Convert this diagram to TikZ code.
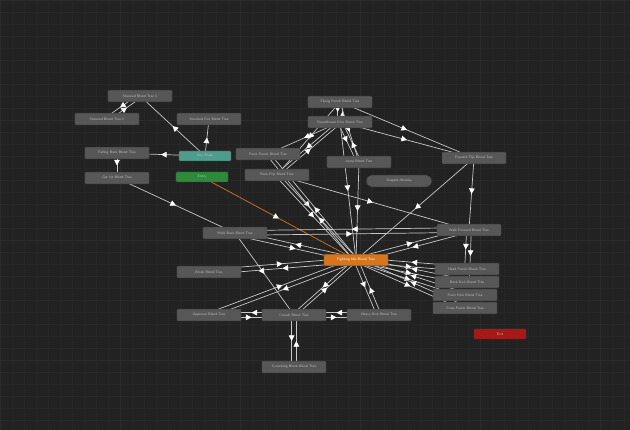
\documentclass[tikz,border=0pt]{standalone}
\usepackage{tikz}
\usetikzlibrary{arrows.meta,decorations.markings,shapes.misc}
\definecolor{bgcol}{HTML}{222222}
\definecolor{gridcol}{HTML}{272727}
\definecolor{gridmaj}{HTML}{2C2C2C}
\definecolor{stategray}{HTML}{575757}
\definecolor{labelgray}{HTML}{C4C4C4}
\definecolor{linegray}{HTML}{C8C8C8}
\definecolor{anyteal}{HTML}{4E9C8C}
\definecolor{entrygreen}{HTML}{2C8A3A}
\definecolor{exitred}{HTML}{A81818}
\definecolor{idleorange}{HTML}{D5761E}
\pgfdeclarelayer{back}
\pgfdeclarelayer{edges}
\pgfsetlayers{back,edges,main}
\tikzset{
  state/.style={draw=black!75,fill=stategray,rounded corners=0.6pt,minimum width=1.92cm,
    minimum height=0.35cm,inner sep=0pt,text=labelgray,font=\sffamily\fontsize{3}{3.5}\selectfont},
  special/.style={state,minimum width=1.56cm,minimum height=0.3cm},
  trans/.style={draw=linegray,line width=0.6pt,postaction=decorate,
    decoration={markings,mark=at position 0.5 with {\arrow[white]{Triangle[length=4.8pt,width=4.8pt]}}}},
  gridline/.style={draw=gridcol,line width=0.4pt},
}

\begin{document}
\begin{tikzpicture}[x=0.03cm,y=-0.03cm]
\useasboundingbox (0,0) rectangle (630,430);
\begin{pgfonlayer}{back}
\fill[bgcol] (0,0) rectangle (630,430);
\foreach \i in {0,12,...,630} \draw[gridline] (\i,0) -- (\i,430);
\foreach \j in {0,12,...,430} \draw[gridline] (0,\j) -- (630,\j);
\foreach \i in {0,120,...,630} \draw[gridline,gridmaj] (\i,0) -- (\i,430);
\foreach \j in {0,120,...,430} \draw[gridline,gridmaj] (0,\j) -- (630,\j);
\end{pgfonlayer}
% left group
\node[state] (S1) at (140,96) {Stunned Blend Tree 1};
\node[state] (S2) at (107,119) {Stunned Blend Tree 2};
\node[state] (KO) at (209,119) {Knocked Out Blend Tree};
\node[state] (FB) at (117,153) {Falling Back Blend Tree};
\node[state] (GU) at (117,178) {Get Up Blend Tree};
\node[special,fill=anyteal] (AS) at (205,156) {Any State};
\node[special,fill=entrygreen] (EN) at (202,177) {Entry};
\node[special,fill=exitred] (EX) at (500,334) {Exit};
% top group
\node[state] (TP) at (340,102) {Flying Punch Blend Tree};
\node[state] (RK) at (340,122) {Roundhouse Kick Blend Tree};
\node[state] (FrP) at (268,154) {Front Punch Blend Tree};
\node[state] (BF) at (277,175) {Back Flip Blend Tree};
\node[state] (JP) at (359,162) {Jump Blend Tree};
\node[state] (FF) at (474,158) {Forward Flip Blend Tree};
\node[state,rounded rectangle,minimum width=1.95cm] (GR) at (399,181) {Grapple Attacks};
% middle
\node[state] (WB) at (235,233) {Walk Back Blend Tree};
\node[state] (WF) at (469,230) {Walk Forward Blend Tree};
\node[state,fill=idleorange,text=white] (ID) at (356,260) {Fighting Idle Blend Tree};
\node[state] (BL) at (209,272) {Block Blend Tree};
\node[state] (HP) at (467,269) {Head Punch Blend Tree};
\node[state] (BK) at (467,282) {Back Kick Blend Tree};
\node[state] (FK) at (465,295) {Front Kick Blend Tree};
\node[state] (CP) at (465,308) {Cross Punch Blend Tree};
% bottom
\node[state] (UC) at (209,315) {Uppercut Blend Tree};
\node[state] (CR) at (294,315) {Crouch Blend Tree};
\node[state] (HK) at (379,315) {Heavy Kick Blend Tree};
\node[state] (CB) at (294,367) {Crouching Block Blend Tree};

\begin{pgfonlayer}{edges}
\draw[trans] (AS.center) -- (S1.center);
\draw[trans] ([xshift=-3pt]S1.center) -- ([xshift=-3pt]S2.center);
\draw[trans] ([xshift=3pt]S2.center) -- ([xshift=3pt]S1.center);
\draw[trans] (AS.center) -- (KO.center);
\draw[trans] (AS.center) -- (FB.center);
\draw[trans] (FB.center) -- (GU.center);
\draw[trans] (GU.center) -- (WB.center);
\draw[trans,draw=idleorange] (EN.center) -- (ID.center);
\draw[trans] ([xshift=-2pt]TP.center) -- ([xshift=-2pt]RK.center);
\draw[trans] ([xshift=2pt]RK.center) -- ([xshift=2pt]TP.center);
\draw[trans] (TP.center) -- (FF.center);
\draw[trans] (RK.center) -- (FF.center);
\draw[trans] (TP.center) -- (JP.center);
\draw[trans] ([xshift=-2pt]RK.center) -- ([xshift=-2pt]JP.center);
\draw[trans] ([xshift=2pt]JP.center) -- ([xshift=2pt]RK.center);
\draw[trans] ([xshift=-2pt]RK.center) -- ([xshift=-2pt]BF.center);
\draw[trans] ([xshift=2pt]BF.center) -- ([xshift=2pt]RK.center);
\draw[trans] (RK.center) -- (FrP.center);
\draw[trans] (TP.center) -- (BF.center);
\draw[trans] (RK.center) -- (ID.center);
\draw[trans] ([xshift=-2pt]FrP.center) -- ([xshift=-2pt]ID.center);
\draw[trans] ([xshift=2pt]ID.center) -- ([xshift=2pt]FrP.center);
\draw[trans] ([xshift=-2pt]BF.center) -- ([xshift=-2pt]ID.center);
\draw[trans] ([xshift=2pt]ID.center) -- ([xshift=2pt]BF.center);
\draw[trans] (JP.center) -- (ID.center);
\draw[trans] (FF.center) -- (WF.center);
\draw[trans] (FF.center) -- (ID.center);
\draw[trans] (BF.center) -- (WF.center);
\draw[trans] ([yshift=-2pt]WB.center) -- ([yshift=-2pt]ID.center);
\draw[trans] ([yshift=2pt]ID.center) -- ([yshift=2pt]WB.center);
\draw[trans] ([yshift=-2pt]WB.center) -- ([yshift=-2pt]WF.center);
\draw[trans] ([yshift=2pt]WF.center) -- ([yshift=2pt]WB.center);
\draw[trans] ([yshift=-2pt]WF.center) -- ([yshift=-2pt]ID.center);
\draw[trans] ([yshift=2pt]ID.center) -- ([yshift=2pt]WF.center);
\draw[trans] ([xshift=-2pt]WF.center) -- ([xshift=-2pt]HP.center);
\draw[trans] ([xshift=2pt]WF.center) -- ([xshift=2pt]BK.center);
\draw[trans] ([yshift=-2pt]ID.center) -- ([yshift=-2pt]HP.center);
\draw[trans] ([yshift=2pt]HP.center) -- ([yshift=2pt]ID.center);
\draw[trans] ([yshift=-2pt]ID.center) -- ([yshift=-2pt]BK.center);
\draw[trans] ([yshift=2pt]BK.center) -- ([yshift=2pt]ID.center);
\draw[trans] ([yshift=-2pt]ID.center) -- ([yshift=-2pt]FK.center);
\draw[trans] ([yshift=2pt]FK.center) -- ([yshift=2pt]ID.center);
\draw[trans] ([yshift=-2pt]ID.center) -- ([yshift=-2pt]CP.center);
\draw[trans] ([yshift=2pt]CP.center) -- ([yshift=2pt]ID.center);
\draw[trans] ([yshift=-2pt]ID.center) -- ([yshift=-2pt]BL.center);
\draw[trans] ([yshift=2pt]BL.center) -- ([yshift=2pt]ID.center);
\draw[trans] (WB.center) -- (CR.center);
\draw[trans] ([yshift=-2pt]ID.center) -- ([yshift=-2pt]UC.center);
\draw[trans] ([yshift=2pt]UC.center) -- ([yshift=2pt]ID.center);
\draw[trans] ([xshift=-2pt]ID.center) -- ([xshift=-2pt]CR.center);
\draw[trans] ([xshift=2pt]CR.center) -- ([xshift=2pt]ID.center);
\draw[trans] ([xshift=-2pt]ID.center) -- ([xshift=-2pt]HK.center);
\draw[trans] ([xshift=2pt]HK.center) -- ([xshift=2pt]ID.center);
\draw[trans] ([yshift=-2pt]UC.center) -- ([yshift=-2pt]CR.center);
\draw[trans] ([yshift=2pt]CR.center) -- ([yshift=2pt]UC.center);
\draw[trans] ([yshift=-2pt]CR.center) -- ([yshift=-2pt]HK.center);
\draw[trans] ([yshift=2pt]HK.center) -- ([yshift=2pt]CR.center);
\draw[trans] ([xshift=-2pt]CR.center) -- ([xshift=-2pt]CB.center);
\draw[trans] ([xshift=2pt]CB.center) -- ([xshift=2pt]CR.center);
\end{pgfonlayer}
\end{tikzpicture}
\end{document}
